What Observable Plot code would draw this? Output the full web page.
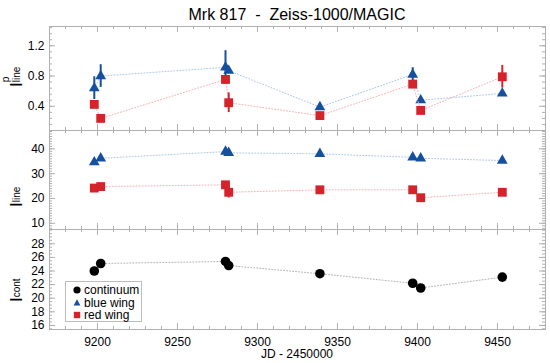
<!DOCTYPE html>
<html><head><meta charset="utf-8">
<script src="https://cdn.jsdelivr.net/npm/d3@7"></script>
<script src="https://cdn.jsdelivr.net/npm/@observablehq/plot@0.6"></script>
<style>
body{margin:0;background:#fff;font-family:"Liberation Sans",Arial,Helvetica,sans-serif;}
#chart{position:relative;width:550px;height:363px;overflow:hidden;background:#fff;}
.panel{position:absolute;left:0;}
#title{position:absolute;left:49px;width:496px;top:5px;text-align:center;font-size:16px;line-height:20px;white-space:pre;}
#xlabel{position:absolute;left:49px;width:496px;top:346px;text-align:center;font-size:12px;line-height:16px;}
#legend{position:absolute;left:65px;top:281px;width:77px;height:41px;border:1px solid #bdbdbd;background:#fff;box-sizing:border-box;font-size:12px;}
#legend .row{position:absolute;left:0;height:12px;line-height:12px;white-space:nowrap;}
#legend svg{position:absolute;left:6px;top:1px;}
#legend span{position:absolute;left:18px;top:0;}
</style></head><body>
<div id="chart"></div>
<script>
// ---- data ----
const jd = [9198, 9202, 9280, 9282, 9339, 9397, 9402, 9453];
// polarized line flux (top panel)
const polBlue    = [0.64, 0.80, 0.915, 0.87, 0.39, 0.82, 0.48, 0.57];
const polBlueErr = [0.15, 0.15, 0.22, 0.03, 0.03, 0.09, 0.03, 0.03];
const polRed     = [0.425, 0.24, 0.755, 0.447, 0.277, 0.693, 0.345, 0.79];
const polRedErr  = [0.03, 0.03, 0.03, 0.13, 0.03, 0.03, 0.03, 0.15];
// line flux (middle panel)
const lineBlue    = [34.6, 36.2, 38.9, 38.4, 38.0, 36.6, 36.2, 35.3];
const lineBlueErr = [0.5, 0.5, 0.5, 0.5, 0.5, 0.5, 0.5, 0.5];
const lineRed     = [24.2, 24.8, 25.5, 22.5, 23.5, 23.5, 20.3, 22.5];
const lineRedErr  = [0.5, 0.5, 0.5, 2.3, 0.5, 0.5, 1.2, 0.5];
// continuum flux (bottom panel)
const cont = [24.0, 25.1, 25.4, 24.8, 23.6, 22.2, 21.5, 23.1];

const xTickLabels = [9200, 9250, 9300, 9350, 9400, 9450];
const titleText = "Mrk 817  -  Zeiss-1000/MAGIC";
const xTitle = "JD - 2450000";
const legendLabels = ["continuum", "blue wing", "red wing"];

// ---- style ----
const FONT = '"Liberation Sans", Arial, Helvetica, sans-serif';
const BLUE = "#15509f", RED = "#d5232b", BLACK = "#000";
const BLUE_L = "#adc6e8", RED_L = "#f5b2b2", BLACK_L = "#b3b3b3";
const GRID = "#b0b0b0";
const ML = 49, MR = 5, W = 550;
const innerW = W - ML - MR;
const xDomain = [9170, 9480];

const rows = (vals, errs) => jd.map((t, i) => ({jd: t, v: vals[i], lo: vals[i] - (errs ? errs[i] : 0), hi: vals[i] + (errs ? errs[i] : 0)}));
const range = (a, b, s) => { const out = []; for (let k = 0; a + k * s <= b + 1e-9; k++) out.push(+(a + k * s).toFixed(6)); return out; };

function frameTicks(h, yMajor, yMinor) {
  const xMinor = range(9170, 9480, 10), xMajor = range(9200, 9450, 50);
  return [
    Plot.ruleY(yMinor, {stroke: GRID, insetRight: innerW - 3}),
    Plot.ruleY(yMinor, {stroke: GRID, insetLeft: innerW - 3}),
    Plot.ruleY(yMajor, {stroke: GRID, insetRight: innerW - 6}),
    Plot.ruleY(yMajor, {stroke: GRID, insetLeft: innerW - 6}),
    Plot.ruleX(xMinor, {stroke: GRID, insetBottom: h - 3}),
    Plot.ruleX(xMinor, {stroke: GRID, insetTop: h - 3}),
    Plot.ruleX(xMajor, {stroke: GRID, insetBottom: h - 6}),
    Plot.ruleX(xMajor, {stroke: GRID, insetTop: h - 6}),
    Plot.frame({stroke: GRID})
  ];
}

function series(data, color, light, symbol, r, withErr) {
  const m = [Plot.line(data, {x: "jd", y: "v", stroke: light, strokeWidth: 1, strokeDasharray: "1,2"})];
  if (withErr) m.push(Plot.ruleX(data, {x: "jd", y1: "lo", y2: "hi", stroke: color, strokeWidth: 2}));
  m.push(Plot.dot(data, {x: "jd", y: "v", symbol, r, fill: color, stroke: "none"}));
  return m;
}

function panel({top, h, yDomain, yMajor, yMinor, yFmt, marks, bottomAxis}) {
  const mb = bottomAxis ? 34 : 0;
  const extra = [];
  if (bottomAxis) extra.push(Plot.axisX({ticks: xTickLabels, tickSize: 0, tickPadding: 8, tickFormat: d => String(d), label: null}));
  const svg = Plot.plot({
    width: W, height: h + mb,
    marginLeft: ML, marginRight: MR, marginTop: 0, marginBottom: mb,
    style: {background: "transparent", overflow: "visible", fontSize: "12px", fontFamily: FONT, color: "#000"},
    x: bottomAxis ? {domain: xDomain} : {domain: xDomain, axis: null},
    y: {domain: yDomain},
    marks: [
      ...frameTicks(h, yMajor, yMinor),
      Plot.axisY({ticks: yMajor, tickSize: 0, tickPadding: 5, tickFormat: yFmt, label: null}),
      ...extra,
      ...marks
    ]
  });
  svg.classList.add("panel");
  svg.style.top = top + "px";
  svg.style.position = "absolute";
  svg.style.left = "0px";
  return svg;
}

const chart = document.getElementById("chart");

const p1 = panel({
  top: 26, h: 104, yDomain: [0.08, 1.455],
  yMajor: [0.4, 0.8, 1.2], yMinor: range(0.08, 1.44, 0.08), yFmt: d3.format(".1f"),
  marks: [
    ...series(rows(polBlue, polBlueErr), BLUE, BLUE_L, "triangle", 4, true),
    ...series(rows(polRed, polRedErr), RED, RED_L, "square", 5, true)
  ]
});
const p2 = panel({
  top: 130, h: 99, yDomain: [7.5, 47.4],
  yMajor: [10, 20, 30, 40], yMinor: range(8, 47, 1), yFmt: d => String(d),
  marks: [
    ...series(rows(lineBlue, lineBlueErr), BLUE, BLUE_L, "triangle", 4, true),
    ...series(rows(lineRed, lineRedErr), RED, RED_L, "square", 5, true)
  ]
});
const p3 = panel({
  top: 229, h: 100, yDomain: [15.4, 30.1],
  yMajor: [16, 18, 20, 22, 24, 26, 28], yMinor: range(15.5, 30, 0.5), yFmt: d => String(d),
  marks: [
    ...series(rows(cont, null), BLACK, BLACK_L, "circle", 4.8, false)
  ],
  bottomAxis: true
});
chart.append(p1, p2, p3);

// title and x title
const t = document.createElement("div"); t.id = "title"; t.textContent = titleText; chart.append(t);
const xl = document.createElement("div"); xl.id = "xlabel"; xl.textContent = xTitle; chart.append(xl);

// y-axis titles (rotated, with sub/superscripts)
const ns = "http://www.w3.org/2000/svg";
const ov = document.createElementNS(ns, "svg");
ov.setAttribute("width", 48); ov.setAttribute("height", 363);
ov.style.cssText = "position:absolute;left:0;top:0;overflow:visible";
function ytitle(y, sup, sub) {
  const tx = document.createElementNS(ns, "text");
  tx.setAttribute("transform", `translate(22,${y}) rotate(-90)`);
  tx.setAttribute("font-family", FONT);
  tx.setAttribute("font-size", 17);
  tx.textContent = "I";
  if (sup) {
    const s = document.createElementNS(ns, "tspan");
    s.setAttribute("font-size", 10); s.setAttribute("dy", -13.5); s.textContent = sup; tx.append(s);
    const b = document.createElementNS(ns, "tspan");
    b.setAttribute("font-size", 10); b.setAttribute("dx", -5.6); b.setAttribute("dy", 11.5); b.textContent = sub; tx.append(b);
  } else {
    const b = document.createElementNS(ns, "tspan");
    b.setAttribute("font-size", 10); b.setAttribute("dy", -2); b.textContent = sub; tx.append(b);
  }
  ov.append(tx);
}
ytitle(87, "p", "line");
ytitle(207, null, "line");
ytitle(302, null, "cont");
chart.append(ov);

// legend
const lg = document.createElement("div"); lg.id = "legend";
const syms = [
  `<svg width="10" height="10"><circle cx="5" cy="5" r="3.6" fill="${BLACK}"/></svg>`,
  `<svg width="10" height="10"><path d="M5,1.2L8.4,7.6H1.6Z" fill="${BLUE}"/></svg>`,
  `<svg width="10" height="10"><rect x="1.8" y="1.8" width="6.4" height="6.4" fill="${RED}"/></svg>`
];
legendLabels.forEach((lab, i) => {
  const r = document.createElement("div"); r.className = "row";
  r.style.top = (2 + i * 12.5) + "px";
  r.innerHTML = syms[i] + `<span>${lab}</span>`;
  lg.append(r);
});
chart.append(lg);
</script>
</body></html>
